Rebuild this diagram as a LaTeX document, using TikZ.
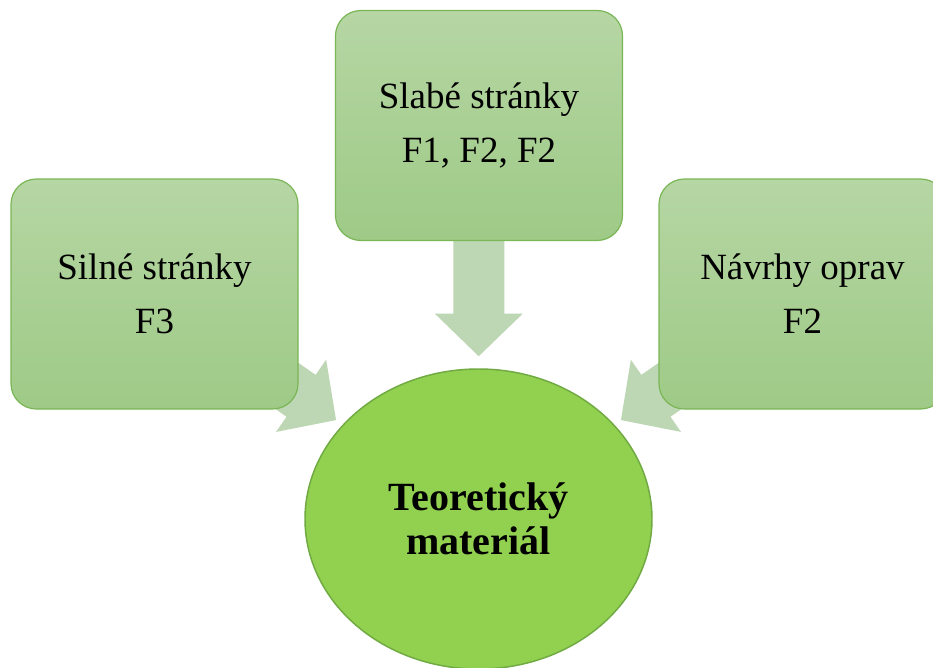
\documentclass[tikz,border=0pt]{standalone}
\usepackage{fontspec}
\setmainfont{Liberation Serif}
\usetikzlibrary{shapes.geometric,arrows.meta}

\definecolor{boxtop}{RGB}{182,214,164}
\definecolor{boxbottom}{RGB}{158,202,134}
\definecolor{boxline}{RGB}{122,182,86}
\definecolor{flowgreen}{RGB}{189,214,179}
\definecolor{corefill}{RGB}{146,208,80}
\definecolor{coreline}{RGB}{112,170,66}

\tikzset{
  themebox/.style={rounded corners=19pt, draw=boxline, line width=0.9pt,
    top color=boxtop, bottom color=boxbottom,
    minimum width=215.25pt, minimum height=172.5pt, inner sep=0pt,
    align=center, font=\fontsize{27.75}{40.5}\selectfont},
  corenode/.style={ellipse, draw=coreline, line width=1.1pt, fill=corefill,
    minimum width=260.25pt, minimum height=225pt, inner sep=0pt,
    align=center, font=\fontsize{30}{33}\selectfont\bfseries},
  flowarrow/.style={draw=flowgreen, line width=38.25pt,
    -{Triangle[length=32pt, width=64pt]}},
}

\begin{document}
\begin{tikzpicture}[x=0.75pt, y=-0.75pt]
  \clip (0,0) rectangle (933,668);
  \fill[white] (0,0) rectangle (933,668);

  % node positions (centres)
  \coordinate (pS) at (154.5,294);
  \coordinate (pW) at (479,125.5);
  \coordinate (pN) at (802.5,294);
  \coordinate (pC) at (478.5,519);

  % thick block arrows, drawn first so that the boxes cover their tails
  \draw[flowarrow, shorten >=122pt] (pW) -- (pC);
  \draw[flowarrow, shorten >=130pt] (pS) -- (pC);
  \draw[flowarrow, shorten >=130pt] (pN) -- (pC);

  \node[themebox] (silne) at (pS) {Silné stránky\\F3};
  \node[themebox] (slabe) at (pW) {Slabé stránky\\F1, F2, F2};
  \node[themebox] (navrhy) at (pN) {Návrhy oprav\\F2};

  \node[corenode] (teorie) at (pC) {Teoretický\\materiál};
\end{tikzpicture}
\end{document}
